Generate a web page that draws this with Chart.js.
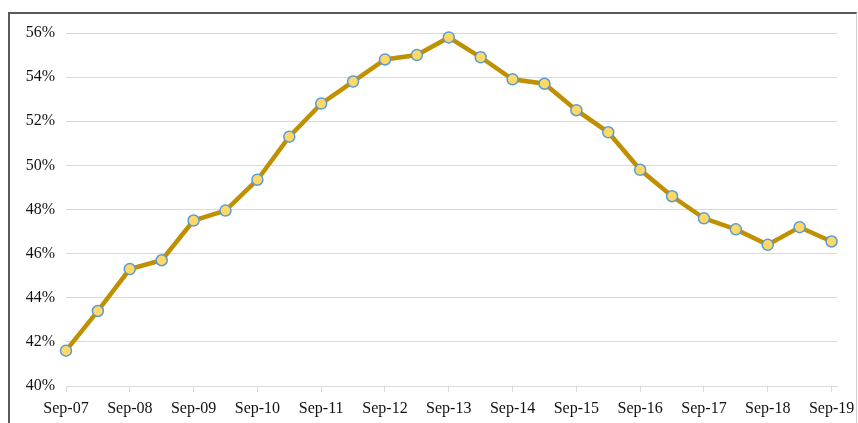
<!DOCTYPE html>
<html>
<head>
<meta charset="utf-8">
<script src="https://cdn.jsdelivr.net/npm/chart.js@4"></script>
<style>
  html, body { margin: 0; padding: 0; background: #fff; }
  #wrap { position: relative; width: 858px; height: 423px; }
  #frame {
    position: absolute; left: 8px; top: 12px; width: 846px; height: 420px;
    border-top: 2px solid #5a5a5a; border-left: 2px solid #5a5a5a; border-right: 1px solid #d0d0d0;
  }
  canvas { position: absolute; left: 0; top: 0; }
</style>
</head>
<body>
<div id="wrap">
  <div id="frame"></div>
  <canvas id="myChart" width="858" height="423"></canvas>
</div>
<script>
// half-yearly points, Sep-07 to Sep-19
const dates = ['Sep-07', 'Mar-08', 'Sep-08', 'Mar-09', 'Sep-09', 'Mar-10', 'Sep-10', 'Mar-11',
    'Sep-11', 'Mar-12', 'Sep-12', 'Mar-13', 'Sep-13', 'Mar-14', 'Sep-14', 'Mar-15', 'Sep-15',
    'Mar-16', 'Sep-16', 'Mar-17', 'Sep-17', 'Mar-18', 'Sep-18', 'Mar-19', 'Sep-19'];
const share = [41.6, 43.4, 45.3, 45.7, 47.5, 47.95, 49.35, 51.3, 52.8, 53.8, 54.8, 55.0, 55.8,
    54.9, 53.9, 53.7, 52.5, 51.5, 49.8, 48.6, 47.6, 47.1, 46.4, 47.2, 46.55];
const yTicks = [40, 42, 44, 46, 48, 50, 52, 54, 56];

const serif = "'Liberation Serif', 'Times New Roman', serif";
const ctx = document.getElementById('myChart');

const myChart = new Chart(ctx, {
    type: 'line',
    data: {
        datasets: [{
            data: share.map((v, i) => ({ x: i, y: v })),
            borderColor: '#BF9000',
            borderWidth: 4.5,
            tension: 0,
            clip: false,
            pointRadius: 5.5,
            pointBackgroundColor: '#FFD966',
            pointBorderColor: '#5B9BD5',
            pointBorderWidth: 1.5
        }]
    },
    options: {
        responsive: false,
        animation: false,
        layout: { padding: { top: 33, right: 21, left: 0, bottom: 0 } },
        plugins: { legend: { display: false }, tooltip: { enabled: false } },
        scales: {
            x: {
                type: 'linear',
                min: 0,
                max: 24.17,
                afterBuildTicks: (scale) => {
                    scale.ticks = dates.map((d, i) => ({ value: i })).filter(t => t.value % 2 === 0);
                },
                afterFit: (scale) => {
                    scale.height = 37;
                    scale.paddingLeft = 0;
                    scale.paddingRight = 0;
                },
                ticks: {
                    autoSkip: false,
                    maxRotation: 0,
                    padding: 7,
                    color: '#111',
                    font: { family: serif, size: 16 },
                    callback: (v) => dates[v]
                },
                grid: { drawOnChartArea: false, tickLength: 6, color: '#d9d9d9' },
                border: { color: '#d9d9d9', width: 1 }
            },
            y: {
                min: 40,
                max: 56,
                afterBuildTicks: (scale) => {
                    scale.ticks = yTicks.map(v => ({ value: v }));
                },
                afterFit: (scale) => { scale.width = 66; },
                ticks: {
                    padding: 11,
                    color: '#111',
                    font: { family: serif, size: 16 },
                    callback: (v) => v + '%'
                },
                grid: { color: '#d9d9d9', drawTicks: false },
                border: { display: false }
            }
        }
    }
});
</script>
</body>
</html>
